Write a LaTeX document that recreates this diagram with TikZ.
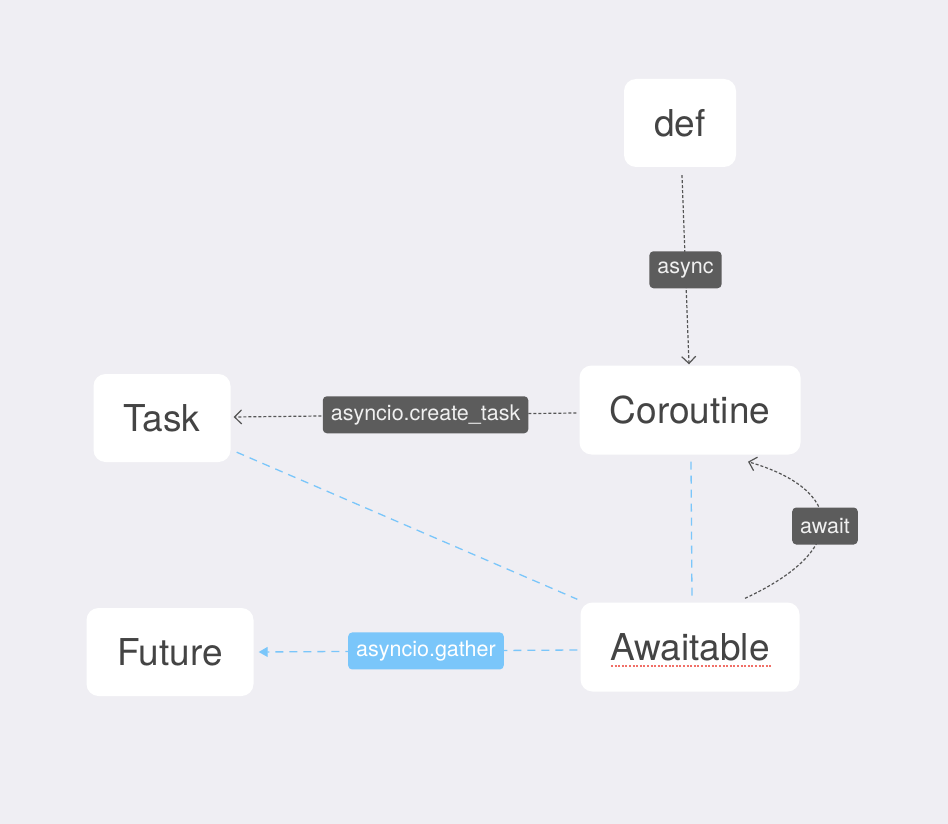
\documentclass[tikz,border=0pt]{standalone}
\usepackage{fontspec}
\setmainfont{TeX Gyre Heros}
\usetikzlibrary{arrows.meta,calc}
\definecolor{bg}{HTML}{EFEEF3}
\definecolor{txt}{HTML}{444444}
\definecolor{lbl}{HTML}{5C5C5C}
\definecolor{bl}{HTML}{7AC6FA}
\definecolor{darkln}{HTML}{555555}
\definecolor{redul}{HTML}{F07068}
\tikzset{
  box/.style={fill=white, rounded corners=12pt, text=txt, font=\fontsize{37}{41}\selectfont, inner sep=0pt},
  lbox/.style={fill=lbl, rounded corners=4pt, text=white!94!black, font=\fontsize{21.5}{25}\selectfont, minimum height=37pt, inner xsep=8pt, inner ysep=0pt},
  bbox/.style={lbox, fill=bl, text=white},
  grayarrow/.style={draw=darkln, line width=1.2pt, dash pattern=on 3pt off 2pt, -{Straight Barb[length=7pt,width=14pt]}},
  blueline/.style={draw=bl, line width=1.3pt, dash pattern=on 8pt off 6pt},
}
\begin{document}
\begin{tikzpicture}[x=1pt,y=-1pt]
\path[fill=bg] (0,0) rectangle (948,824);
\node[box, minimum width=112pt, minimum height=88pt] (def) at (680,123) {def};
\node[box, minimum width=221pt, minimum height=89pt] (cor) at (690,410) {Coroutine};
\node[box, minimum width=137pt, minimum height=88pt] (task) at (162,418) {Task};
\node[box, minimum width=167pt, minimum height=88pt] (fut) at (170,652) {Future};
\node[box, minimum width=219pt, minimum height=89pt] (aw) at (690,647) {Awaitable};
\draw[redul, line width=2.6pt, dash pattern=on 2pt off 1.6pt] ($(aw.center)+(-79,19)$) -- ($(aw.center)+(82,19)$);
% def -> Coroutine
\draw[grayarrow] ($(def.south)+(2,8)$) -- ($(cor.north)+(-1,-1)$) node[lbox, midway] (la) {async};
% Coroutine -> Task
\draw[grayarrow] ($(cor.west)+(-3,3)$) -- ($(task.east)+(3,-1)$) node[lbox, pos=0.44] (lb) {asyncio.create\_task};
% Task -- Awaitable
\draw[blueline] ($(task.south east)+(6,-10)$) -- ($(aw.north west)+(-3,-3)$);
% Coroutine -- Awaitable
\draw[blueline] ($(cor.south)+(1,7)$) -- ($(aw.north)+(2,-3)$);
% Awaitable -> Coroutine (await)
\draw[grayarrow] ($(aw.north)+(55,-4)$) .. controls (850,550) and (845,490) .. ($(cor.south)+(58,7)$);
\node[lbox] (lc) at (825,526) {await};
% Awaitable -> Future
\draw[blueline, -{Triangle[length=9pt,width=10pt]}] ($(aw.west)+(-3,3)$) -- ($(fut.east)+(5,0)$) node[bbox, pos=0.475] (ld) {asyncio.gather};
\end{tikzpicture}
\end{document}
